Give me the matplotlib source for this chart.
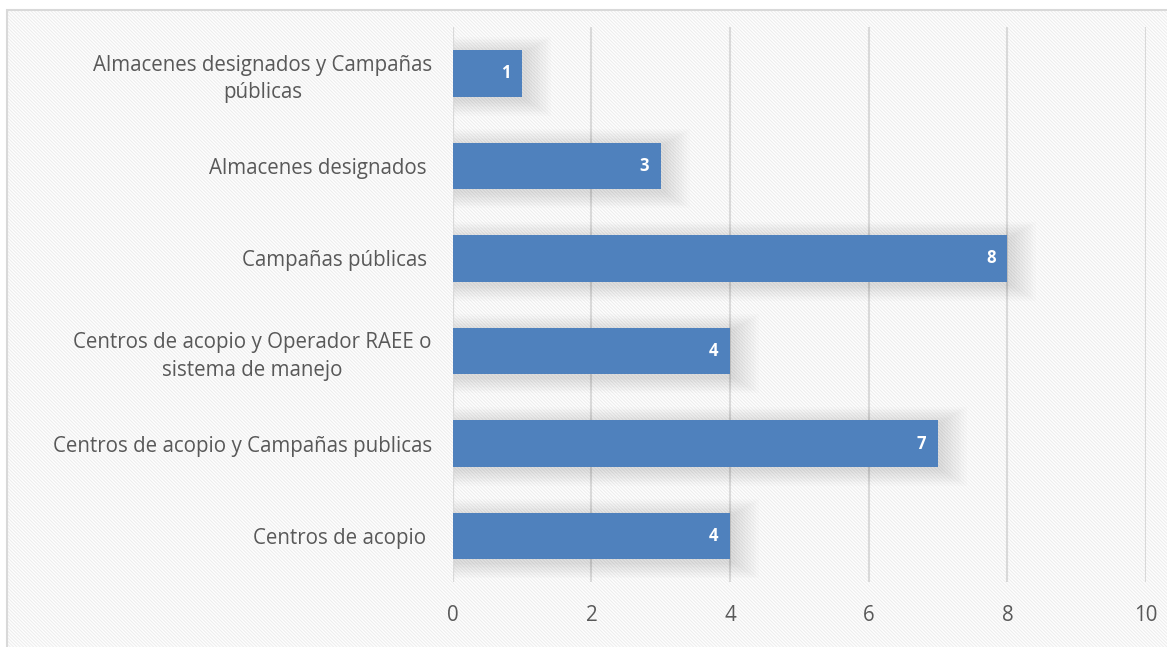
import matplotlib.pyplot as plt
from matplotlib.patches import Rectangle

categories = ['Centros de acopio ',
              'Centros de acopio y Campañas publicas',
              'Centros de acopio y Operador RAEE o\nsistema de manejo',
              'Campañas públicas ',
              'Almacenes designados ',
              'Almacenes designados y Campañas\npúblicas']
values = [4, 7, 4, 8, 3, 1]
xticks = [0, 2, 4, 6, 8, 10]

plt.rcParams['font.family'] = ['Open Sans', 'DejaVu Sans']
plt.rcParams['hatch.linewidth'] = 0.8

fig = plt.figure(figsize=(11.67, 6.47), dpi=100)
fig.patch.set_facecolor('white')

# hatched chart background
bg = Rectangle((0.006, 0), 1.0, 0.985, transform=fig.transFigure,
               facecolor='white', edgecolor='#EEEEEE', hatch='\\' * 10,
               linewidth=0, zorder=-10)
fig.patches.append(bg)
border = Rectangle((0.006, -0.01), 1.0, 0.995, transform=fig.transFigure,
                   facecolor='none', edgecolor='#D9D9D9', linewidth=1.5, zorder=-9)
fig.patches.append(border)

ax = fig.add_axes([0.388, 0.1, 0.594, 0.858])
ax.set_facecolor('none')

pos = list(range(len(categories)))

# soft shadows
for k in range(10):
    grow = 0.035 * (10 - k)
    ax.barh([p - 0.03 for p in pos], [v + 0.03 + grow * 1.1 for v in values],
            height=0.5 + grow, left=0, color='#000000', alpha=0.011, zorder=1,
            linewidth=0)

bars = ax.barh(pos, values, height=0.5, color='#4F81BD', zorder=3)

for p, v in zip(pos, values):
    ax.text(v - 0.17, p, str(v), ha='right', va='center', color='white',
            fontsize=12, fontweight='bold', zorder=4)

ax.set_xlim(0, 10)
ax.set_ylim(-0.5, 5.5)
ax.set_xticks(xticks)
ax.set_yticks(pos)
ax.set_yticklabels(categories, multialignment='center', linespacing=1.4)
ax.tick_params(axis='both', length=0, labelsize=14.8, colors='#595959')
ax.tick_params(axis='y', pad=15)
ax.tick_params(axis='x', pad=16)
ax.xaxis.grid(True, color='#D9D9D9', linewidth=1.5, zorder=0)
ax.set_axisbelow(True)
for s in ax.spines.values():
    s.set_visible(False)
ax.axvline(0, color='#D9D9D9', linewidth=1.5, zorder=2)

fig.savefig('out.png', dpi=100)
